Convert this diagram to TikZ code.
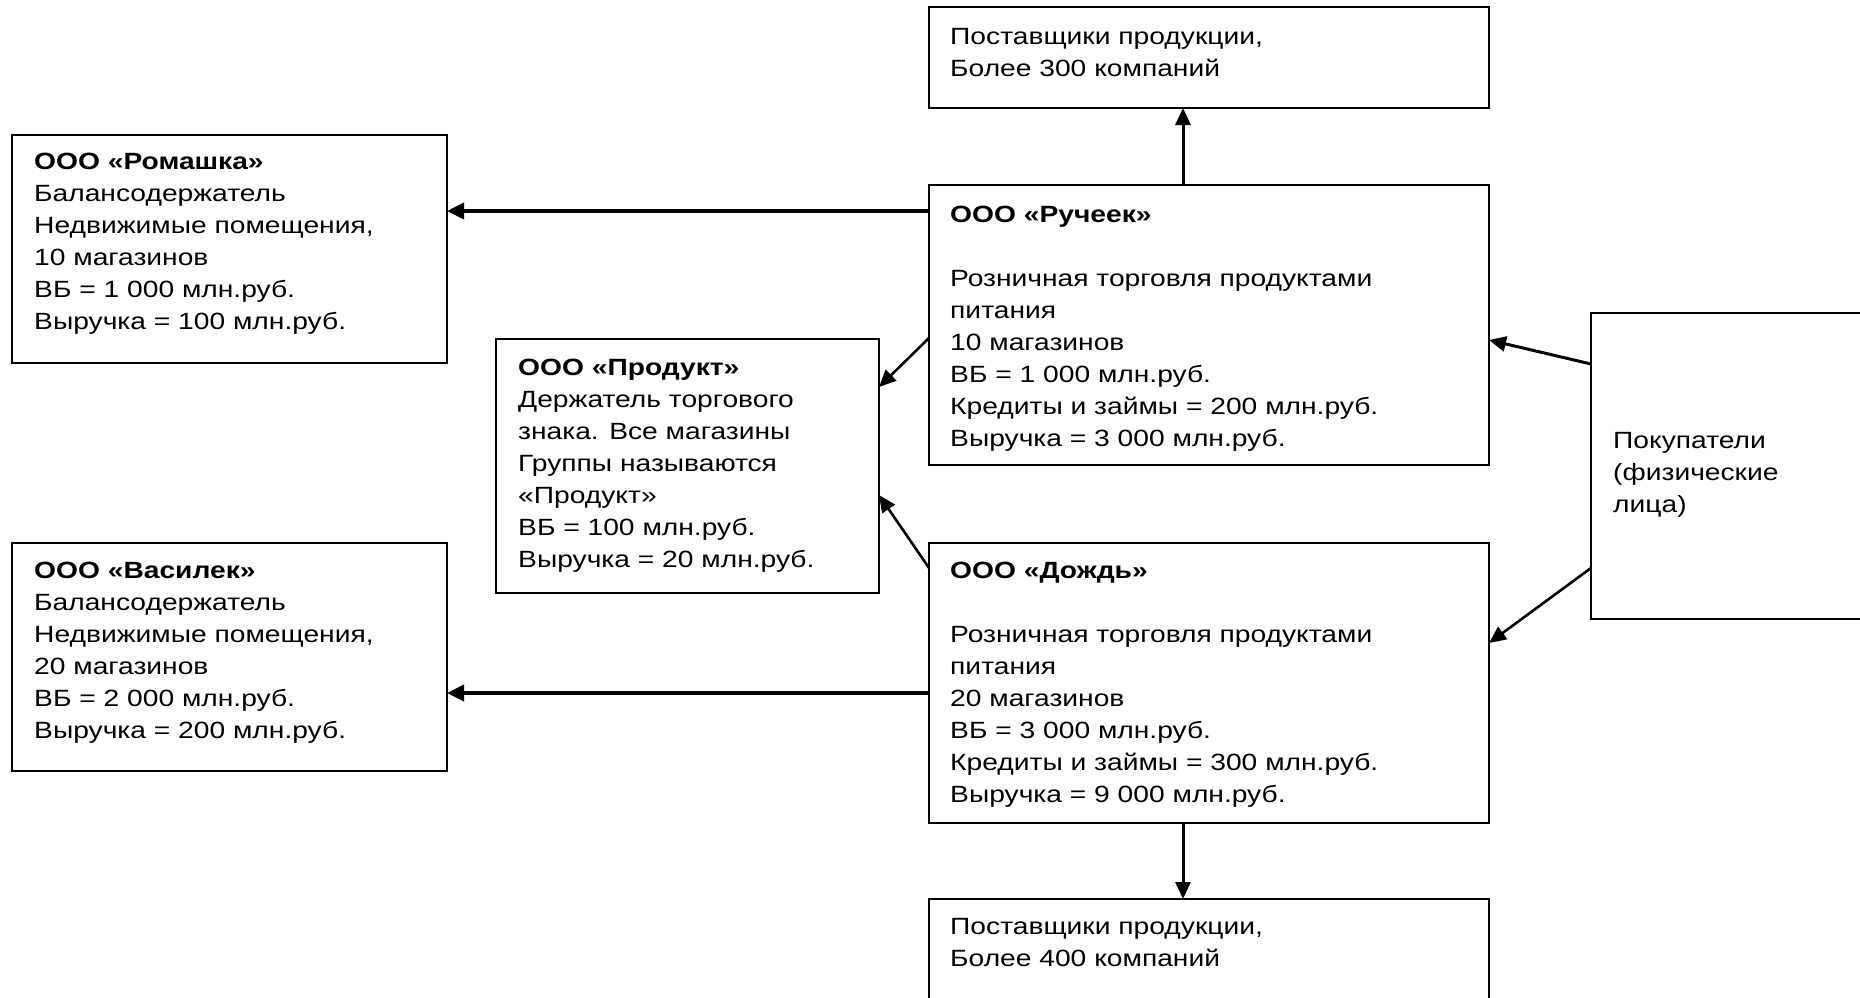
\documentclass[tikz,border=0pt]{standalone}
\usepackage{fontspec}
\setmainfont{Liberation Sans}[FakeStretch=1.2]
\usetikzlibrary{arrows.meta}
\begin{document}
\begin{tikzpicture}[x=1pt,y=-1pt,
  box/.style={draw, line width=1.4pt, inner sep=0pt, outer sep=0pt},
  txt/.style={anchor=north west, inner sep=0pt, align=left, font=\fontsize{23.5}{32}\selectfont},
  conn/.style={line width=2.6pt, -{Triangle[length=17pt,width=15pt]}},
  thickconn/.style={line width=4pt, -{Triangle[length=17pt,width=16pt]}}]
\clip (0,0) rectangle (1860,998);
\fill[white] (0,0) rectangle (1860,998);
% boxes
\node[box, minimum width=560pt, minimum height=101pt] (s1) at (1209,57.5) {};
\node[box, minimum width=435pt, minimum height=228pt] (rom) at (229.5,249) {};
\node[box, minimum width=560pt, minimum height=280pt] (ruch) at (1209,325) {};
\node[box, minimum width=383pt, minimum height=254pt] (prod) at (687.5,466) {};
\node[box, minimum width=309pt, minimum height=306pt] (pok) at (1745.5,466) {};
\node[box, minimum width=435pt, minimum height=228pt] (vas) at (229.5,657) {};
\node[box, minimum width=560pt, minimum height=280pt] (dozh) at (1209,683) {};
\node[box, minimum width=560pt, minimum height=111pt] (s2) at (1209,954.5) {};
% texts
\node[txt] (s1t) at ([xshift=21pt,yshift=-15pt]s1.north west) {\strut Поставщики продукции,\\Более 300 компаний};
\node[txt] (romt) at ([xshift=22pt,yshift=-12pt]rom.north west) {\strut\textbf{ООО «Ромашка»}\\Балансодержатель\\Недвижимые помещения,\\10 магазинов\\ВБ = 1 000 млн.руб.\\Выручка = 100 млн.руб.};
\node[txt] (rucht) at ([xshift=21pt,yshift=-15pt]ruch.north west) {\strut\textbf{ООО «Ручеек»}\\[32pt]Розничная торговля продуктами\\питания\\10 магазинов\\ВБ = 1 000 млн.руб.\\Кредиты и займы = 200 млн.руб.\\Выручка = 3 000 млн.руб.};
\node[txt] (prodt) at ([xshift=22pt,yshift=-14pt]prod.north west) {\strut\textbf{ООО «Продукт»}\\Держатель торгового\\знака. Все магазины\\Группы называются\\«Продукт»\\ВБ = 100 млн.руб.\\Выручка = 20 млн.руб.};
\node[txt] (pokt) at (1613,425.6) {\strut Покупатели\\(физические\\лица)};
\node[txt] (vast) at ([xshift=22pt,yshift=-13pt]vas.north west) {\strut\textbf{ООО «Василек»}\\Балансодержатель\\Недвижимые помещения,\\20 магазинов\\ВБ = 2 000 млн.руб.\\Выручка = 200 млн.руб.};
\node[txt] (dozht) at ([xshift=21pt,yshift=-13pt]dozh.north west) {\strut\textbf{ООО «Дождь»}\\[32pt]Розничная торговля продуктами\\питания\\20 магазинов\\ВБ = 3 000 млн.руб.\\Кредиты и займы = 300 млн.руб.\\Выручка = 9 000 млн.руб.};
\node[txt] (s2t) at ([xshift=21pt,yshift=-13pt]s2.north west) {\strut Поставщики продукции,\\Более 400 компаний};
% connectors
\draw[conn, line width=3pt] ([xshift=-26pt]ruch.north) -- ([xshift=-26pt]s1.south);
\draw[thickconn] ([yshift=-26pt]ruch.north west) -- ([yshift=-26pt]ruch.north west -| rom.east);
\draw[conn] ([yshift=-153pt]ruch.north west) -- ([yshift=-48pt]prod.north east);
\draw[conn] ([yshift=-25pt]dozh.north west) -- ([yshift=-156pt]prod.north east);
\draw[thickconn] ([yshift=-150pt]dozh.north west) -- ([yshift=-150pt]dozh.north west -| vas.east);
\draw[conn, line width=3pt] ([xshift=-26pt]dozh.south) -- ([xshift=-26pt]s2.north);
\draw[conn, line width=3pt] ([yshift=-51pt]pok.north west) -- ([yshift=-155pt]ruch.north east);
\draw[conn] ([yshift=-255pt]pok.north west) -- ([yshift=-100pt]dozh.north east);
\end{tikzpicture}
\end{document}
